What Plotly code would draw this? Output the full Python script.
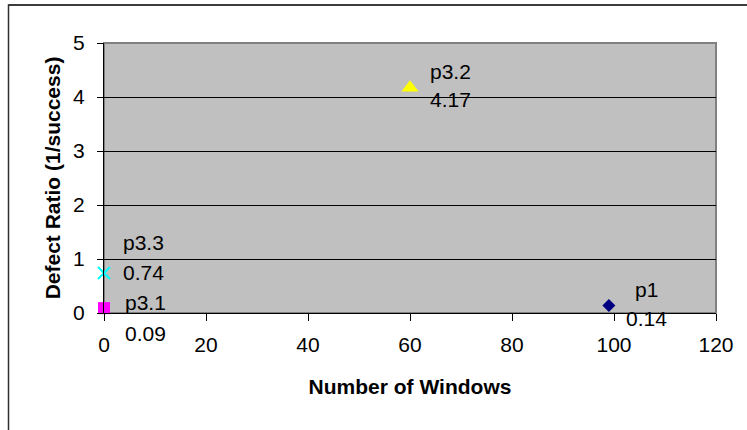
import plotly.graph_objects as go

# ---- data ----
names = ["p1", "p3.1", "p3.2", "p3.3"]
windows = [99, 0, 60, 0]
defect_ratio = [0.14, 0.09, 4.17, 0.74]
value_labels = ["0.14", "0.09", "4.17", "0.74"]
x_ticks = [0, 20, 40, 60, 80, 100, 120]
y_ticks = [0, 1, 2, 3, 4, 5]

# ---- style ----
colors = ["#000080", "#FF00FF", "#FFFF00", "#00FFFF"]
symbols = ["diamond", "square", "triangle-up", "x-thin"]
sizes = [10, 12, 15, 12]
# label offsets (px): x shift, name y shift, value y shift (up positive)
lab_dx = [38, 41, 40, 39]
lab_name_dy = [16, 6, 16, 31]
lab_val_dy = [-13, -25, -12, 1]

FONT = "Liberation Sans, Arial, sans-serif"

fig = go.Figure()
for i, n in enumerate(names):
    is_x = symbols[i].startswith("x")
    fig.add_trace(go.Scatter(
        x=[windows[i]], y=[defect_ratio[i]], mode="markers", name=n,
        cliponaxis=False, hoverinfo="skip",
        marker=dict(
            symbol=symbols[i], size=sizes[i], color=colors[i],
            line=dict(width=2 if is_x else 0, color=colors[i]),
        ),
    ))

annotations = []
for i, n in enumerate(names):
    for txt, dy in ((n, lab_name_dy[i]), (value_labels[i], lab_val_dy[i])):
        annotations.append(dict(
            x=windows[i], y=defect_ratio[i], xref="x", yref="y",
            text=txt, showarrow=False, xshift=lab_dx[i], yshift=dy,
            xanchor="center", yanchor="middle",
            font=dict(family=FONT, size=21, color="black"),
        ))

shapes = [
    # plot-area border (gray)
    dict(type="rect", xref="paper", yref="paper", x0=0, x1=1, y0=0, y1=1,
         line=dict(color="#808080", width=2), layer="below"),
    # outer chart frame
    dict(type="rect", xref="paper", yref="paper",
         x0=(8.5 - 104) / 612, x1=(760 - 104) / 612,
         y0=(313 - 445) / 270, y1=(313 - 5) / 270,
         line=dict(color="#303030", width=1.5)),
    dict(type="line", xref="paper", yref="paper",
         x0=(8.5 - 104) / 612, x1=(760 - 104) / 612,
         y0=(313 - 5) / 270, y1=(313 - 5) / 270,
         line=dict(color="#303030", width=1.5)),
]

fig.update_layout(
    width=747, height=430,
    margin=dict(l=104, r=31, t=43, b=117),
    paper_bgcolor="white", plot_bgcolor="#C0C0C0",
    showlegend=False,
    font=dict(family=FONT, size=21, color="black"),
    annotations=annotations, shapes=shapes,
    xaxis=dict(
        range=[0, 120], tickvals=x_ticks, ticktext=[str(v) for v in x_ticks],
        showgrid=False, zeroline=False, automargin=False,
        showline=True, linecolor="black", linewidth=1,
        ticks="outside", ticklen=7, tickcolor="black",
        ticklabelstandoff=6,
        tickfont=dict(family=FONT, size=21),
        title=dict(text="<b>Number of Windows</b>", standoff=24,
                   font=dict(family=FONT, size=21)),
    ),
    yaxis=dict(
        range=[0, 5], tickvals=y_ticks, ticktext=[str(v) for v in y_ticks],
        showgrid=True, gridcolor="black", gridwidth=1, zeroline=False,
        showline=True, linecolor="black", linewidth=1, automargin=False,
        ticks="outside", ticklen=6, tickcolor="black",
        ticklabelstandoff=8,
        tickfont=dict(family=FONT, size=21),
        title=dict(text="<b>Defect Ratio (1/success)</b>", standoff=6,
                   font=dict(family=FONT, size=21)),
    ),
)

fig.write_html("out.html", config={"displayModeBar": False},
               post_script="document.body.style.margin='0';")
